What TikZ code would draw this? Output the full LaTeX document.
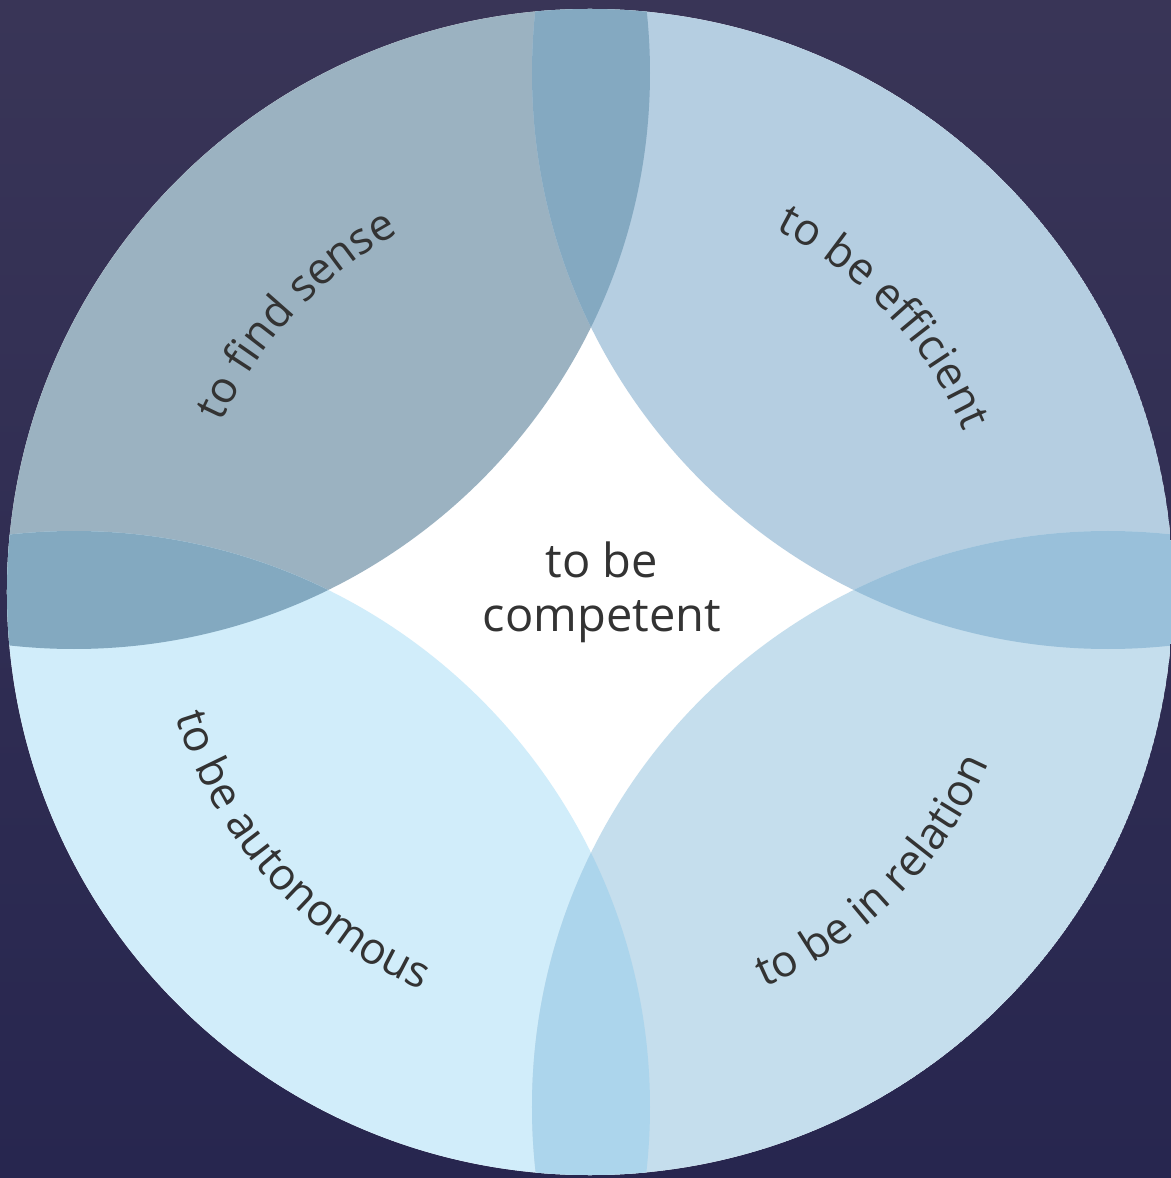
\documentclass[tikz,border=0pt]{standalone}
\usepackage{fontspec}
\setmainfont{Open Sans}
\usetikzlibrary{decorations.text}

\definecolor{bgtop}{HTML}{393557}
\definecolor{bgbot}{HTML}{27264F}
\definecolor{txtgray}{HTML}{333333}
\definecolor{sensefill}{HTML}{9BB2C1}
\definecolor{efficientfill}{HTML}{B5CEE1}
\definecolor{autonomousfill}{HTML}{D1EDFA}
\definecolor{relationfill}{HTML}{C5DEED}
\definecolor{toplens}{HTML}{84A9C1}
\definecolor{leftlens}{HTML}{83A9C0}
\definecolor{rightlens}{HTML}{99C0DA}
\definecolor{bottomlens}{HTML}{ACD5EC}

\newcommand\arcfont{\fontsize{22}{24}\selectfont}
\newcommand\centrefont{\fontsize{23.5}{27}\selectfont}

\begin{document}
\begin{tikzpicture}[x=0.5pt,y=0.5pt,
    arctext/.style={decorate,decoration={text along path,text align=center,
        text color=txtgray,text={|\arcfont|#1}}}]
            \shade[top color=bgtop,bottom color=bgbot] (-591,590) rectangle (580,-588);
            \useasboundingbox (-591,590) rectangle (580,-588);

            \begin{scope}
                \clip (-1,-2) circle (583);
                \fill[white] (-1,-2) circle (583);
                \fill[sensefill] (-517,517) circle (576);
                \fill[efficientfill] (517,517) circle (576);
                \fill[autonomousfill] (-517,-517) circle (576);
                \fill[relationfill] (517,-517) circle (576);
                \begin{scope}
                    \clip (-517,517) circle (576);
                    \fill[toplens] (517,517) circle (576);
                    \fill[leftlens] (-517,-517) circle (576);
                \end{scope}
                \begin{scope}
                    \clip (517,-517) circle (576);
                    \fill[rightlens] (517,517) circle (576);
                    \fill[bottomlens] (-517,-517) circle (576);
                \end{scope}
            \end{scope}

            \path[arctext={to find sense}] (182:405) arc[start angle=182,end angle=92,radius=405];
            \path[arctext={to be efficient}] (88:405) arc[start angle=88,end angle=-2,radius=405];
            \path[arctext={to be autonomous}] (177:434) arc[start angle=177,end angle=267,radius=434];
            \path[arctext={to be in relation}] (270:434) arc[start angle=270,end angle=360,radius=434];

            \node[font=\centrefont,text=txtgray,align=center,inner sep=0pt] (competent) at (11,-2) {to be\\competent};
        \end{tikzpicture}
\end{document}
